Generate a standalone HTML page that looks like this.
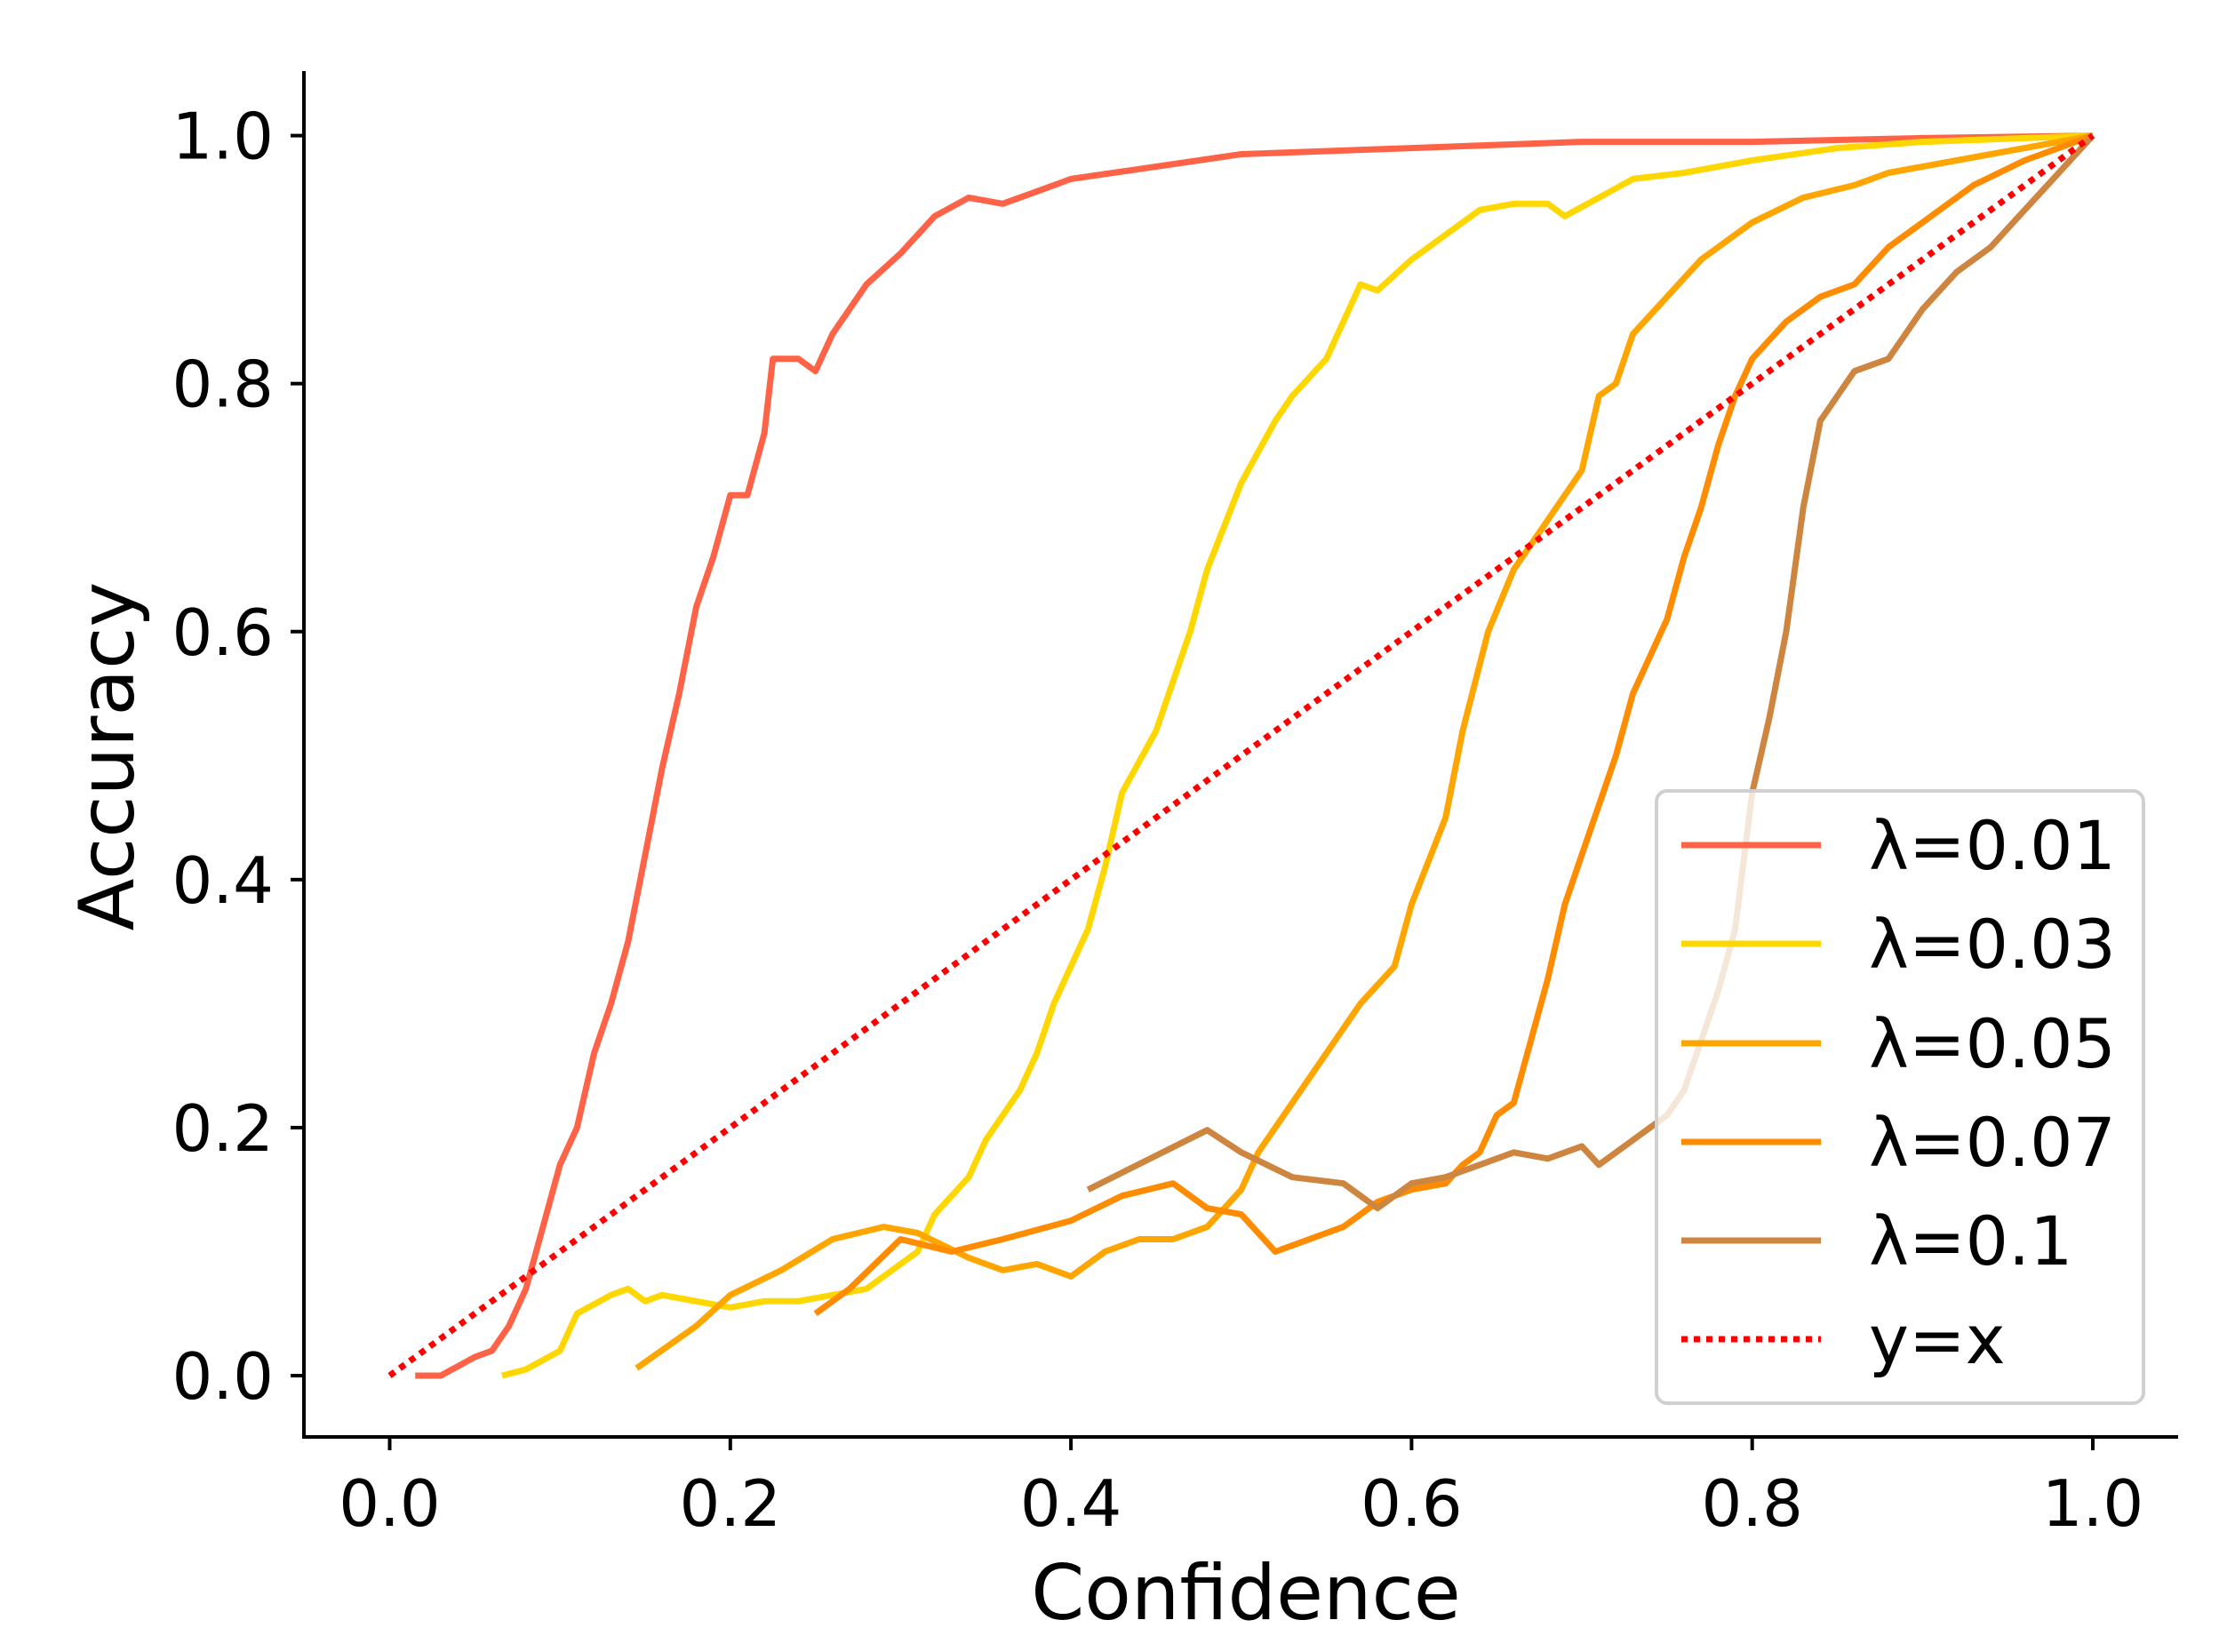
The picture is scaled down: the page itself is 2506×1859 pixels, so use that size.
<!DOCTYPE html>
<html><head><meta charset="utf-8"><style>
html,body{margin:0;padding:0;background:#fff}
svg{display:block;font-family:"DejaVu Sans","Liberation Sans",sans-serif}
</style></head><body>
<svg id="chart" width="2506" height="1859" viewBox="0 0 2506 1859">
<g id="marks"></g>
<g id="axes"></g>
<g id="legend"></g>
</svg>
<script>
const xTicks = [0.0, 0.2, 0.4, 0.6, 0.8, 1.0];
const yTicks = [0.0, 0.2, 0.4, 0.6, 0.8, 1.0];
const seriesNames = ["λ=0.01","λ=0.03","λ=0.05","λ=0.07","λ=0.1"];
const s001x = [0.015,0.03,0.05,0.06,0.07,0.08,0.09,0.1,0.11,0.12,0.13,0.14,0.15,0.16,0.17,0.18,0.19,0.2,0.21,0.22,0.225,0.24,0.25,0.26,0.28,0.3,0.32,0.34,0.36,0.38,0.4,0.45,0.5,0.6,0.7,0.8,0.9,1.0];
const s001y = [0,0,0.015,0.02,0.04,0.07,0.12,0.17,0.2,0.26,0.3,0.35,0.42,0.49,0.55,0.62,0.66,0.71,0.71,0.76,0.82,0.82,0.81,0.84,0.88,0.905,0.935,0.95,0.945,0.955,0.965,0.975,0.985,0.99,0.995,0.995,0.998,1.0];
const s003x = [0.066,0.08,0.1,0.11,0.13,0.14,0.15,0.16,0.18,0.2,0.22,0.24,0.26,0.28,0.3,0.31,0.32,0.34,0.35,0.37,0.38,0.39,0.4,0.41,0.42,0.43,0.45,0.46,0.47,0.48,0.5,0.52,0.53,0.55,0.56,0.57,0.58,0.6,0.62,0.64,0.66,0.68,0.69,0.71,0.73,0.76,0.8,0.85,0.9,1.0];
const s003y = [0,0.005,0.02,0.05,0.065,0.07,0.06,0.065,0.06,0.055,0.06,0.06,0.065,0.07,0.09,0.1,0.13,0.16,0.19,0.23,0.26,0.3,0.33,0.36,0.41,0.47,0.52,0.56,0.6,0.65,0.72,0.77,0.79,0.82,0.85,0.88,0.875,0.9,0.92,0.94,0.945,0.945,0.935,0.95,0.965,0.97,0.98,0.99,0.995,1.0];
const s005x = [0.145,0.18,0.2,0.23,0.26,0.29,0.31,0.34,0.36,0.38,0.4,0.42,0.44,0.46,0.48,0.5,0.51,0.52,0.54,0.56,0.57,0.59,0.6,0.62,0.63,0.645,0.66,0.68,0.7,0.71,0.72,0.73,0.75,0.77,0.8,0.83,0.86,0.88,0.92,0.96,1.0];
const s005y = [0.006,0.04,0.065,0.085,0.11,0.12,0.115,0.095,0.085,0.09,0.08,0.1,0.11,0.11,0.12,0.15,0.18,0.2,0.24,0.28,0.3,0.33,0.38,0.45,0.52,0.6,0.65,0.69,0.73,0.79,0.8,0.84,0.87,0.9,0.93,0.95,0.96,0.97,0.98,0.99,1.0];
const s007x = [0.25,0.27,0.3,0.33,0.36,0.4,0.43,0.46,0.48,0.5,0.52,0.54,0.56,0.58,0.6,0.62,0.63,0.64,0.65,0.66,0.67,0.68,0.69,0.7,0.71,0.72,0.73,0.74,0.75,0.76,0.77,0.78,0.79,0.8,0.82,0.84,0.86,0.88,0.9,0.93,0.96,1.0];
const s007y = [0.05,0.07,0.11,0.1,0.11,0.125,0.145,0.155,0.135,0.13,0.1,0.11,0.12,0.14,0.15,0.155,0.17,0.18,0.21,0.22,0.27,0.32,0.38,0.42,0.46,0.5,0.55,0.58,0.61,0.66,0.7,0.75,0.79,0.82,0.85,0.87,0.88,0.91,0.93,0.96,0.98,1.0];
const s01x = [0.41,0.48,0.5,0.53,0.56,0.58,0.6,0.62,0.64,0.66,0.68,0.7,0.71,0.72,0.73,0.75,0.76,0.77,0.78,0.79,0.8,0.81,0.82,0.83,0.84,0.86,0.88,0.9,0.92,0.94,0.96,0.98,1.0];
const s01y = [0.15,0.198,0.18,0.16,0.155,0.135,0.155,0.16,0.17,0.18,0.175,0.185,0.17,0.18,0.19,0.21,0.23,0.27,0.31,0.36,0.47,0.53,0.6,0.7,0.77,0.81,0.82,0.86,0.89,0.91,0.94,0.97,1.0];
const colors = ["#ff6347","#ffd700","#ffa500","#ff8c00","#cd853f"];

const NS = "http://www.w3.org/2000/svg";
const X0 = 438.5, X1 = 2355, Y0 = 1548, Y1 = 152.6;
function sx(v){ return X0 + v*(X1-X0); }
function sy(v){ return Y0 - v*(Y0-Y1); }
function mk(tag, attrs, parent){ const e=document.createElementNS(NS,tag); for(const k in attrs) e.setAttribute(k,attrs[k]); parent.appendChild(e); return e; }

const marks = document.getElementById("marks");
const axes = document.getElementById("axes");
const legend = document.getElementById("legend");
const allX = [s001x,s003x,s005x,s007x,s01x];
const allY = [s001y,s003y,s005y,s007y,s01y];
const slugs = ["lambda-0-01","lambda-0-03","lambda-0-05","lambda-0-07","lambda-0-1"];
for (let i=0;i<allX.length;i++){
  const d = allX[i].map((v,j)=>(j?"L":"M")+sx(v).toFixed(1)+","+sy(allY[i][j]).toFixed(1)).join(" ");
  const p = mk("path",{d:d,fill:"none",stroke:colors[i],"stroke-width":7,"stroke-linejoin":"round"},marks);
  
  
}
const diag = mk("line",{x1:sx(0),y1:sy(0),x2:sx(1),y2:sy(1),stroke:"#ff0000","stroke-width":7,"stroke-dasharray":"7 7"},marks);



const ls = mk("line",{x1:342,y1:80,x2:342,y2:1618,stroke:"#000","stroke-width":4},axes);


const bs = mk("line",{x1:340,y1:1617,x2:2451,y2:1617,stroke:"#000","stroke-width":4},axes);


xTicks.forEach(v=>{
  const t = mk("line",{x1:sx(v),y1:1617,x2:sx(v),y2:1632,stroke:"#000","stroke-width":4},axes);
  
  
  const l = mk("text",{x:sx(v),y:1717,"font-size":72,"text-anchor":"middle"},axes);
  l.textContent = v.toFixed(1);
  
  
});
yTicks.forEach(v=>{
  const t = mk("line",{x1:327,y1:sy(v),x2:342,y2:sy(v),stroke:"#000","stroke-width":4},axes);
  
  
  const l = mk("text",{x:308,y:sy(v)+26,"font-size":72,"text-anchor":"end"},axes);
  l.textContent = v.toFixed(1);
  
  
});
const xt = mk("text",{x:1402,y:1822,"font-size":86,"text-anchor":"middle"},axes);
xt.textContent = "Confidence";


const yt = mk("text",{x:0,y:0,"font-size":86,"text-anchor":"middle",transform:"translate(150,851) rotate(-90)"},axes);
yt.textContent = "Accuracy";



const box = mk("rect",{x:1864,y:890,width:548,height:689,rx:12,fill:"rgba(255,255,255,0.8)",stroke:"#d0d0d0","stroke-width":4},legend);


const legY = [951,1062,1174,1285,1396,1507];
const legLabels = seriesNames.concat(["y=x"]);
for (let i=0;i<6;i++){
  const attrs = {x1:1892,y1:legY[i],x2:2049,y2:legY[i],stroke:i<5?colors[i]:"#ff0000","stroke-width":7};
  if (i===5) attrs["stroke-dasharray"]="7 7";
  const ln = mk("line",attrs,legend);
  
  
  const tx = mk("text",{x:2103,y:legY[i]+27,"font-size":76},legend);
  tx.textContent = legLabels[i];
  
  
}
</script>
</body></html>
